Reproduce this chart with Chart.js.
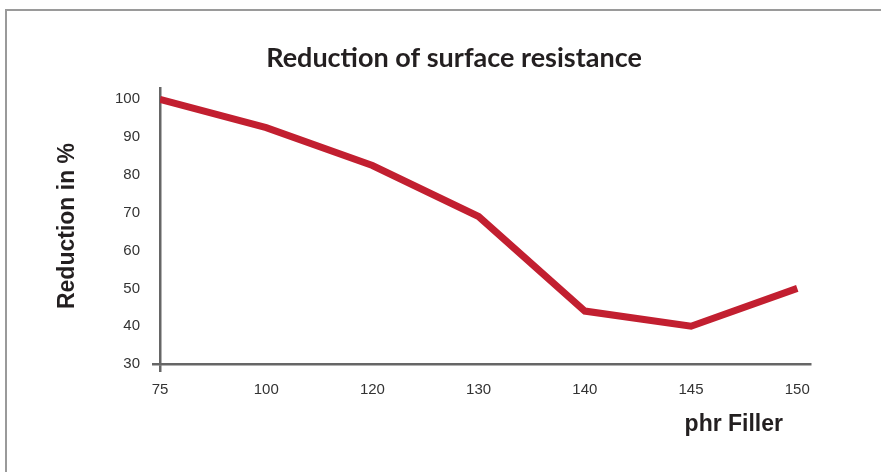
<!DOCTYPE html>
<html>
<head>
<meta charset="utf-8">
<script src="https://cdn.jsdelivr.net/npm/chart.js@4.4.1/dist/chart.umd.min.js"></script>
<style>
  html, body { margin: 0; padding: 0; background: #fff; }
  #wrap { position: relative; width: 881px; height: 472px; }
  #frame { position: absolute; left: 5px; top: 9px; right: 0; bottom: 0;
           border-top: 2px solid #9a9a9a; border-left: 2px solid #9a9a9a; }
  canvas { position: absolute; left: 0; top: 0; }
</style>
</head>
<body>
<div id="wrap">
  <div id="frame"></div>
  <canvas id="c" width="881" height="472"></canvas>
</div>
<script>
const chartTitle = 'Reduction of surface resistance';
const xAxisTitle = 'phr Filler';
const yAxisTitle = 'Reduction in %';
const categories = ['75', '100', '120', '130', '140', '145', '150'];
const reduction = [100, 92.5, 82.5, 69, 44, 40, 50];
const yTicks = [30, 40, 50, 60, 70, 80, 90, 100];

const points = reduction.map((v, i) => ({ x: i, y: v }));

const textPlugin = {
  id: 'texts',
  afterDraw(chart) {
    const s = chart.scales.x;
    const ctx = chart.ctx;
    ctx.save();
    ctx.fillStyle = '#231f20';
    ctx.textBaseline = 'middle';
    ctx.font = 'bold 23px "Liberation Sans", Arial, sans-serif';
    ctx.textAlign = 'right';
    ctx.fillText(xAxisTitle, s.right - 27, 425);
    ctx.font = 'bold 27px Lato, "Open Sans", sans-serif';
    ctx.textAlign = 'center';
    ctx.fillText(chartTitle, 454, 58);
    ctx.restore();
  }
};

new Chart(document.getElementById('c'), {
  type: 'line',
  data: {
    datasets: [{
      data: points,
      borderColor: '#c21f30',
      borderWidth: 7,
      pointRadius: 0,
      tension: 0,
      fill: false
    }]
  },
  options: {
    responsive: false,
    animation: false,
    layout: { padding: { left: 0, right: 71, top: 88, bottom: 0 } },
    plugins: {
      legend: { display: false },
      tooltip: { enabled: false },
      title: { display: false }
    },
    scales: {
      x: {
        type: 'linear',
        min: 0,
        max: 6.12,
        afterBuildTicks(scale) { scale.ticks = categories.map((c, i) => ({ value: i })); },
        afterFit(scale) { scale.height = 108; },
        border: { display: true, color: '#666', width: 2.5 },
        grid: {
          display: true,
          drawOnChartArea: false,
          drawTicks: true,
          tickLength: 8,
          lineWidth: 2.5,
          color: (ctx) => (ctx.tick && ctx.tick.value === 0 ? '#666' : 'rgba(0,0,0,0)')
        },
        ticks: {
          autoSkip: false,
          maxRotation: 0,
          padding: 9,
          color: '#333',
          font: { family: '"Liberation Sans", Arial, sans-serif', size: 15 },
          callback: (v) => categories[v]
        },
        title: { display: false }
      },
      y: {
        min: 30,
        max: 103,
        afterBuildTicks(scale) { scale.ticks = yTicks.map(v => ({ value: v })); },
        afterFit(scale) { scale.width = 160; },
        border: { display: true, color: '#666', width: 2.5 },
        grid: {
          display: true,
          drawOnChartArea: false,
          drawTicks: true,
          tickLength: 8,
          lineWidth: 2.5,
          color: (ctx) => (ctx.tick && ctx.tick.value === 30 ? '#666' : 'rgba(0,0,0,0)')
        },
        ticks: {
          padding: 12,
          color: '#333',
          font: { family: '"Liberation Sans", Arial, sans-serif', size: 15 }
        },
        title: {
          display: true,
          text: yAxisTitle,
          color: '#231f20',
          font: { family: '"Liberation Sans", Arial, sans-serif', size: 23, weight: 'bold' },
          padding: { top: 54, bottom: 0 }
        }
      }
    }
  },
  plugins: [textPlugin]
});
</script>
</body>
</html>
